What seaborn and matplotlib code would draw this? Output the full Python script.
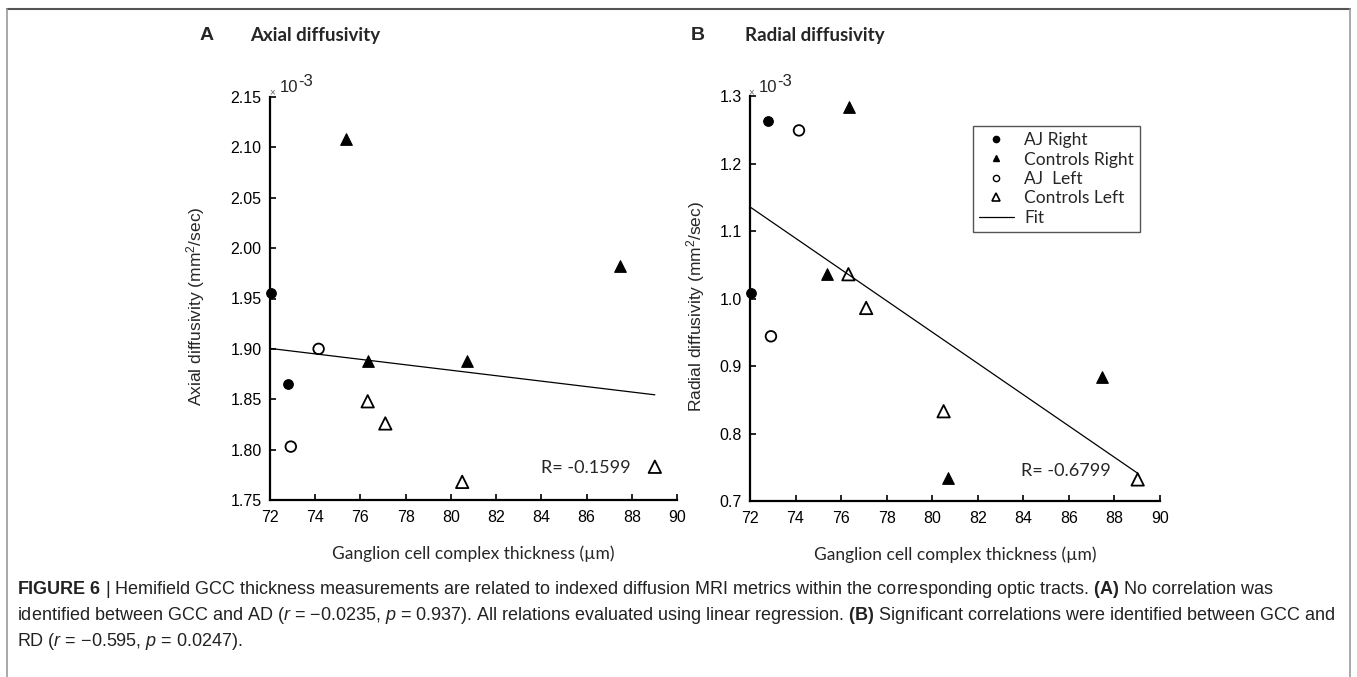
import numpy as np
import pandas as pd
import matplotlib
matplotlib.use("Agg")
import matplotlib.pyplot as plt
import seaborn as sns
from matplotlib.lines import Line2D
from matplotlib import font_manager as fm

# ---------------- data (diffusivity values in 10^-3 mm^2/sec) ----------------
aj_right_x = [72.05, 72.80]
ctrl_right_x = [75.36, 76.34, 80.71, 87.47]
aj_left_x = [72.92, 74.15]
ctrl_left_x = [76.32, 77.10, 80.50, 89.02]

ad_aj_right = [1.955, 1.865]
ad_ctrl_right = [2.108, 1.888, 1.888, 1.982]
ad_aj_left = [1.803, 1.900]
ad_ctrl_left = [1.848, 1.826, 1.768, 1.783]

rd_aj_right = [1.008, 1.263]
rd_ctrl_right = [1.037, 1.283, 0.734, 0.883]
rd_aj_left = [0.944, 1.249]
rd_ctrl_left = [1.036, 0.986, 0.833, 0.732]

group_labels = ["AJ Right", "Controls Right", "AJ  Left", "Controls Left"]
x_ticks = [72, 74, 76, 78, 80, 82, 84, 86, 88, 90]
ad_ticks = [1.75, 1.80, 1.85, 1.90, 1.95, 2.00, 2.05, 2.10, 2.15]
rd_ticks = [0.7, 0.8, 0.9, 1.0, 1.1, 1.2, 1.3]
r_text_ad = "R= -0.1599"
r_text_rd = "R= -0.6799"
x_label = "Ganglion cell complex thickness (\u00b5m)"
ad_label = "Axial diffusivity (mm$^{2}$/sec)"
rd_label = "Radial diffusivity (mm$^{2}$/sec)"

sns.set_style("ticks")
avail = {f.name for f in fm.fontManager.ttflist}
MY = "Lato" if "Lato" in avail else "DejaVu Sans"
HV = "Liberation Sans" if "Liberation Sans" in avail else "DejaVu Sans"
CAP = "Liberation Sans Narrow" if "Liberation Sans Narrow" in avail else HV
plt.rcParams["font.family"] = [HV, "DejaVu Sans"]
plt.rcParams["mathtext.fontset"] = "custom"
plt.rcParams["mathtext.rm"] = CAP
plt.rcParams["mathtext.it"] = CAP + ":italic"
plt.rcParams["mathtext.bf"] = CAP + ":bold"

W, H = 1357, 677
fig = plt.figure(figsize=(W / 100, H / 100), dpi=100)
fig.patch.set_facecolor("white")

def fx(px):
    return px / W

def fy(py):
    return 1 - py / H

axA = fig.add_axes([fx(270), fy(500), 407 / W, 403 / H])
axB = fig.add_axes([fx(750), fy(501), 410 / W, 405 / H])

styles = [("o", True, 48), ("^", True, 70), ("o", False, 58), ("^", False, 80)]
xs_all = [aj_right_x, ctrl_right_x, aj_left_x, ctrl_left_x]

def panel(ax, ys, yticks, ylim, fmt, ylabel, lab_x, rtxt, rpos):
    for xs, y, (mk, filled, s) in zip(xs_all, ys, styles):
        if filled:
            kw = dict(color="black", edgecolor="black", linewidth=0.8)
        else:
            kw = dict(color="black", facecolor="none", edgecolor="black", linewidth=1.3)
        sns.scatterplot(x=xs, y=y, ax=ax, marker=mk, s=s, clip_on=False,
                        zorder=3, legend=False, **kw)
    allx = np.concatenate([np.asarray(v, float) for v in xs_all])
    ally = np.concatenate([np.asarray(v, float) for v in ys])
    sns.regplot(x=allx, y=ally, ax=ax, scatter=False, ci=None, truncate=True,
                line_kws=dict(color="black", lw=0.9))
    ax.set_xlim(72, 90)
    ax.set_ylim(*ylim)
    ax.set_xticks(x_ticks)
    ax.set_xticklabels([str(t) for t in x_ticks])
    ax.set_yticks(yticks)
    ax.set_yticklabels([fmt.format(t) for t in yticks])
    sns.despine(ax=ax)
    for sp in ["left", "bottom"]:
        ax.spines[sp].set_linewidth(1.6)
        ax.spines[sp].set_color("black")
    ax.tick_params(direction="in", length=4, width=1.2, labelsize=11.5,
                   colors="black")
    ax.tick_params(axis="x", pad=7)
    ax.tick_params(axis="y", pad=6)
    ax.set_xlabel(x_label, fontsize=12.5, family=MY)
    ax.xaxis.set_label_coords(0.5, -0.112)
    ax.set_ylabel(ylabel, fontsize=12.5, family=HV)
    ax.yaxis.set_label_coords(lab_x, 0.48)
    ax.text(rpos[0], rpos[1], rtxt, fontsize=13, family=MY, va="center", ha="left")
    ax.set_facecolor("none")

panel(axA, [ad_aj_right, ad_ctrl_right, ad_aj_left, ad_ctrl_left], ad_ticks,
      (1.75, 2.15), "{:.2f}", ad_label, -0.155, r_text_ad, (84.0, 1.782))
panel(axB, [rd_aj_right, rd_ctrl_right, rd_aj_left, rd_ctrl_left], rd_ticks,
      (0.7, 1.3), "{:.1f}", rd_label, -0.105, r_text_rd, (83.9, 0.745))

# legend
handles = [
    Line2D([], [], ls="none", marker="o", ms=4.5, mfc="black", mec="black"),
    Line2D([], [], ls="none", marker="^", ms=5, mfc="black", mec="black"),
    Line2D([], [], ls="none", marker="o", ms=4.5, mfc="none", mec="black", mew=1),
    Line2D([], [], ls="none", marker="^", ms=5.5, mfc="none", mec="black", mew=1.2),
    Line2D([], [], color="black", lw=0.9),
]
leg = axB.legend(handles, group_labels + ["Fit"], loc="upper left",
                 bbox_to_anchor=(fx(973), fy(126)), bbox_transform=fig.transFigure,
                 borderaxespad=0, frameon=True, fancybox=False, framealpha=1,
                 edgecolor="#555555", labelspacing=0.2,
                 handlelength=2.0, handletextpad=0.6, borderpad=0.35,
                 prop=dict(family=MY, size=12.5))
leg.get_frame().set_linewidth(1.0)

# panel headers
fig.text(fx(207), fy(36), "A", fontsize=14, fontweight="bold", family=HV, ha="center", va="center")
fig.text(fx(250), fy(36), "Axial diffusivity", fontsize=13.5, fontweight="bold", family=MY, ha="left", va="center")
fig.text(fx(698), fy(36), "B", fontsize=14, fontweight="bold", family=HV, ha="center", va="center")
fig.text(fx(745), fy(36), "Radial diffusivity", fontsize=13.5, fontweight="bold", family=MY, ha="left", va="center")

# x 10^-3 multipliers
for x0 in (272, 751):
    fig.text(fx(x0), fy(92), "\u00d7", fontsize=7, color="#666666", family=HV, ha="center", va="center")
    fig.text(fx(x0 + 8), fy(88), "10", fontsize=12, family=HV, ha="left", va="center")
    fig.text(fx(x0 + 26), fy(81), "-3", fontsize=12, family=HV, ha="left", va="center")

# frame
fig.add_artist(Line2D([fx(7), fx(1350)], [fy(9), fy(9)], color="#555555", lw=1.5,
                      transform=fig.transFigure))
for xx in (7, 1350):
    fig.add_artist(Line2D([fx(xx), fx(xx)], [fy(9), fy(677)], color="#9a9a9a", lw=1.2,
                          transform=fig.transFigure))

# caption
MINUS = "\u2212"
cap_lines = [
    r"$\mathbf{FIGURE\ 6}$ | Hemifield GCC thickness measurements are related to indexed diffusion MRI metrics within the corresponding optic tracts. $\mathbf{(A)}$ No correlation was",
    r"identified between GCC and AD ($\mathit{r}$ = " + MINUS + r"0.0235, $\mathit{p}$ = 0.937). All relations evaluated using linear regression. $\mathbf{(B)}$ Significant correlations were identified between GCC and",
    r"RD ($\mathit{r}$ = " + MINUS + r"0.595, $\mathit{p}$ = 0.0247).",
]
cap_y = [590, 615, 641]
texts = [fig.text(fx(17), fy(yy), s, fontsize=12, family=CAP, ha="left", va="center",
                  color="#222222") for s, yy in zip(cap_lines, cap_y)]
fig.canvas.draw()
r = fig.canvas.get_renderer()
wline = texts[1].get_window_extent(r).width
scale = (1337 - 17) / wline
for t in texts:
    t.set_fontsize(12 * scale)

fig.savefig("out.png", dpi=100, facecolor="white")
